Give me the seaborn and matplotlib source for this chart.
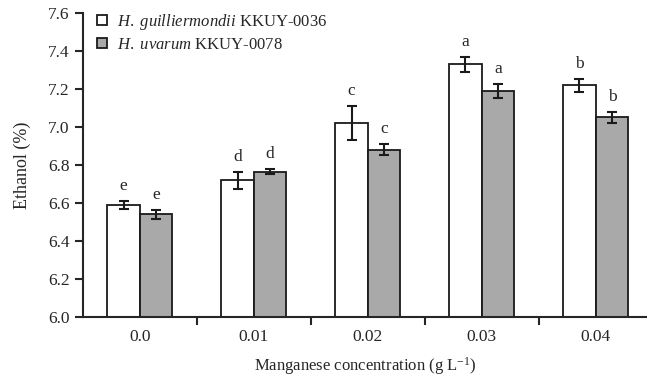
import pandas as pd
import matplotlib.pyplot as plt
import seaborn as sns
from matplotlib.lines import Line2D
from matplotlib.ticker import FixedLocator

concentrations = ["0.0", "0.01", "0.02", "0.03", "0.04"]
strains = ["H. guilliermondii KKUY-0036", "H. uvarum KKUY-0078"]
ethanol_hg = [6.59, 6.72, 7.02, 7.33, 7.22]
ethanol_hu = [6.54, 6.765, 6.88, 7.19, 7.05]
err_hg = [0.02, 0.045, 0.09, 0.04, 0.035]
err_hu = [0.025, 0.015, 0.03, 0.035, 0.03]
letters_hg = ["e", "d", "c", "a", "b"]
letters_hu = ["e", "d", "c", "a", "b"]

df = pd.DataFrame({
    "conc": concentrations * 2,
    "strain": [strains[0]] * 5 + [strains[1]] * 5,
    "ethanol": ethanol_hg + ethanol_hu,
})

sns.set_style("ticks")
plt.rcParams["font.family"] = ["Liberation Serif", "DejaVu Serif"]
plt.rcParams["mathtext.fontset"] = "custom"
plt.rcParams["mathtext.rm"] = "Liberation Serif"
plt.rcParams["mathtext.it"] = "Liberation Serif:italic"

fig = plt.figure(figsize=(6.47, 3.81), dpi=100)
ax = fig.add_axes([0.128, 0.168, 0.872, 0.798])

sns.barplot(data=df, x="conc", y="ethanol", hue="strain", order=concentrations,
            hue_order=strains, palette=["white", "#a9a9a9"], edgecolor="#1a1a1a",
            linewidth=1.3, width=0.57, errorbar=None, legend=False, ax=ax)

for cont, errs, lets in zip(ax.containers, [err_hg, err_hu], [letters_hg, letters_hu]):
    for bar, e, lt in zip(cont, errs, lets):
        xc = bar.get_x() + bar.get_width() / 2
        top = bar.get_height() + bar.get_y()
        ax.errorbar(xc, top, yerr=e, color="#1a1a1a", capsize=3.5, elinewidth=1.5,
                    capthick=1.5, zorder=5)
        ax.annotate(lt, (xc, top + e), xytext=(0, 5), textcoords="offset points",
                    ha="center", va="bottom", fontsize=12.5)

ax.set_ylim(6.0, 7.6)
ax.set_yticks([6.0, 6.2, 6.4, 6.6, 6.8, 7.0, 7.2, 7.4, 7.6])
ax.set_yticklabels([f"{v:.1f}" for v in ax.get_yticks()])
ax.set_xlim(-0.5, 4.45)
ax.tick_params(axis="x", which="major", length=0, pad=9, labelsize=12.5)
ax.xaxis.set_minor_locator(FixedLocator([0.5, 1.5, 2.5, 3.5]))
ax.tick_params(axis="x", which="minor", length=6, width=1.5, direction="out")
ax.tick_params(axis="y", length=6, width=1.5, labelsize=12.5, direction="out")

for s in ["top", "right"]:
    ax.spines[s].set_visible(False)
ax.spines["left"].set_linewidth(1.5)
ax.spines["bottom"].set_linewidth(1.5)

ax.set_xlabel(r"Manganese concentration (g L$^{-1}$)", fontsize=12, labelpad=7)
ax.set_ylabel("Ethanol (%)", fontsize=13, labelpad=12)

handles = [Line2D([], [], marker="s", linestyle="", markersize=7,
                  markerfacecolor=c, markeredgecolor="#1a1a1a", markeredgewidth=1.3)
           for c in ["white", "#a9a9a9"]]
labels = [r"$\it{H.\ guilliermondii}$ KKUY-0036", r"$\it{H.\ uvarum}$ KKUY-0078"]
ax.legend(handles, labels, loc="upper left", bbox_to_anchor=(0.01, 1.025), frameon=False,
          fontsize=12, handlelength=0.8, handletextpad=0.5, labelspacing=0.3,
          borderaxespad=0)

fig.savefig("out.png", dpi=100)
